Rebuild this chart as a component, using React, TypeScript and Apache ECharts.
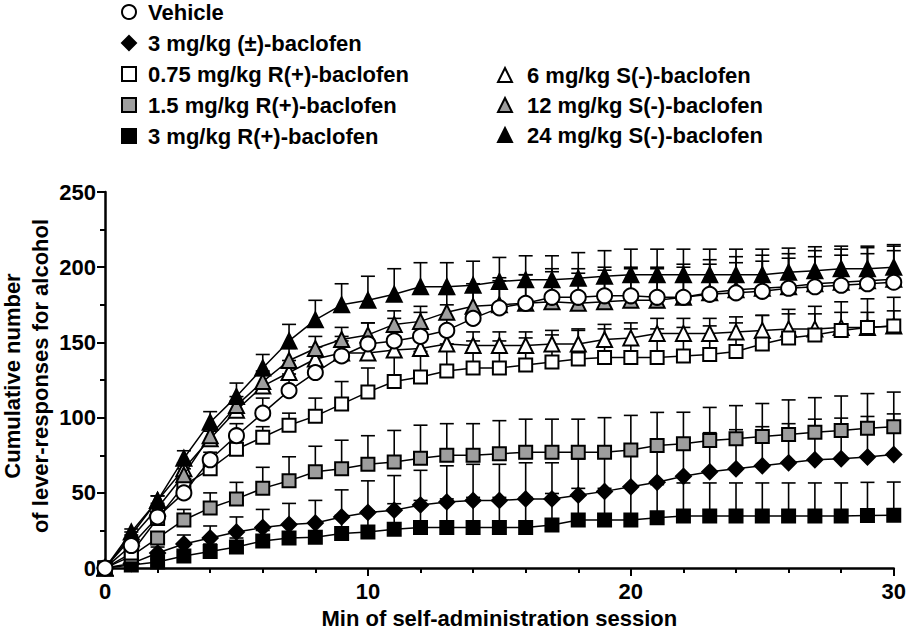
import React, { useEffect, useRef } from "react";
import * as echarts from "echarts";

const minutes = Array.from({ length: 31 }, (_, i) => i);

const seriesNames = [
  "Vehicle",
  "3 mg/kg (±)-baclofen",
  "0.75 mg/kg R(+)-baclofen",
  "1.5 mg/kg R(+)-baclofen",
  "3 mg/kg R(+)-baclofen",
  "6 mg/kg S(-)-baclofen",
  "12 mg/kg S(-)-baclofen",
  "24 mg/kg S(-)-baclofen",
];

const yTitleLines = ["Cumulative number", "of lever-responses for alcohol"];
const xTitle = "Min of self-administration session";

const vehicle = [0, 15, 34, 50, 72, 88, 103, 118, 130, 141, 149, 151, 154, 158, 166, 173, 176, 180, 180, 181, 181, 180, 180, 182, 183, 184, 186, 187, 188, 189, 190];
const vehicleErr = [0, 2, 3, 4, 5, 8, 10, 11, 12, 13, 14, 15, 16, 17, 18, 18, 19, 19, 19, 19, 19, 20, 20, 20, 20, 20, 20, 20, 20, 20, 21];

const racemic3 = [0, 3, 10, 16, 20, 24, 27, 29, 30, 34, 37, 38.5, 42, 44, 45, 45, 46, 46, 48.5, 51, 54, 57, 61, 64, 66, 68, 70, 72, 72.7, 73.8, 75.5];
const racemic3Err = [0, 2, 4, 6, 8, 10, 12, 14, 15, 18, 21, 23, 23, 24, 24, 24, 24, 24, 24, 24, 25, 25, 25, 26, 26, 26, 26, 27, 27, 27, 27];

const r075 = [0, 10, 33, 55, 66, 79, 87, 95, 101, 109, 117, 124, 127, 131, 133, 133, 135, 137, 139, 140, 140, 140, 141, 142, 144, 149, 153, 155, 158, 160, 161];
const r075Err = [0, 2, 3, 4, 5, 6, 7, 8, 12, 15, 16, 17, 17, 18, 18, 18, 18, 18, 19, 19, 19, 19, 19, 19, 19, 19, 19, 19, 19, 19, 19];

const r15 = [0, 8, 20, 32, 40, 46, 53, 58, 64, 66, 69, 70.5, 73, 75, 75, 76, 77, 77, 77, 77, 78.5, 81.5, 82.6, 84.8, 86, 87.4, 88.8, 90.3, 91.4, 93, 94];
const r15Err = [0, 2, 4, 7, 10, 11, 14, 16, 17, 19, 19, 21, 22, 21, 21, 22, 22, 22, 22, 23, 23, 22, 21, 22, 22, 22, 23, 23, 23, 23, 23];

const r3 = [0, 2, 4, 8, 11, 14, 18, 20, 20.5, 23, 24, 25.8, 27, 27, 27, 27, 27, 28.6, 32, 32, 32, 33.5, 34.6, 34.6, 34.6, 34.6, 34.6, 34.6, 34.6, 35, 35.2];
const r3Err = [0, 1, 2, 3, 5, 6, 7, 9, 10, 12, 14, 17, 18, 19, 20, 20, 20, 21, 21, 21, 22, 22, 22, 22, 22, 22, 22, 22, 22, 22, 22];

const s6 = [0, 22, 45, 66, 86, 105, 121, 130, 139, 143, 143, 145, 146, 149, 148, 148, 148, 149, 149, 152, 153, 156, 156, 156, 157, 158, 159, 159, 160, 160, 161];
const s6Err = [0, 2, 3, 4, 5, 6, 7, 8, 8, 8, 8, 9, 9, 9, 9, 9, 9, 9, 10, 10, 10, 10, 10, 10, 10, 10, 10, 10, 10, 10, 10];

const s12 = [0, 20, 40, 62, 88, 108, 124, 138, 146, 152, 155, 162, 164, 170, 174, 175, 176, 177, 176, 177, 178, 178, 180, 183, 185, 186, 187, 189, 190, 191, 192];
const s12Err = [0, 2, 3, 4, 5, 6, 7, 8, 8, 8, 8, 9, 10, 12, 15, 18, 19, 20, 20, 21, 21, 21, 22, 22, 22, 22, 22, 22, 22, 22, 22];

const s24 = [0, 24, 45, 73, 97, 114, 133, 151, 165, 175, 178, 182, 187, 187, 188, 190.5, 191.6, 191.6, 192.7, 194, 195, 195, 195, 195, 195, 195, 196.7, 197.6, 199, 199, 200];
const s24Err = [0, 2, 3, 5, 7, 9, 9, 11, 13, 14, 16, 17, 16, 16, 16, 16, 16, 16, 17, 17, 17, 17, 17, 17, 17, 17, 16, 16, 15, 15, 15];

const xTicks = [0, 10, 20, 30];
const yTicks = [0, 50, 100, 150, 200, 250];

const FONT = "'Liberation Sans', Arial, sans-serif";
const GRAY = "#9e9e9e";

type Group = { name: string; values: number[]; errs: number[]; symbol: string; size: number; fill: string; order: number };

const groups: Group[] = [
  { name: seriesNames[4], values: r3, errs: r3Err, symbol: "rect", size: 13, fill: "#000", order: 0 },
  { name: seriesNames[1], values: racemic3, errs: racemic3Err, symbol: "diamond", size: 15, fill: "#000", order: 1 },
  { name: seriesNames[3], values: r15, errs: r15Err, symbol: "rect", size: 13, fill: GRAY, order: 2 },
  { name: seriesNames[5], values: s6, errs: s6Err, symbol: "triangle", size: 15, fill: "#fff", order: 3 },
  { name: seriesNames[2], values: r075, errs: r075Err, symbol: "rect", size: 13, fill: "#fff", order: 4 },
  { name: seriesNames[6], values: s12, errs: s12Err, symbol: "triangle", size: 15, fill: GRAY, order: 5 },
  { name: seriesNames[7], values: s24, errs: s24Err, symbol: "triangle", size: 15, fill: "#000", order: 6 },
  { name: seriesNames[0], values: vehicle, errs: vehicleErr, symbol: "circle", size: 15, fill: "#fff", order: 7 },
];

function legendItem(name: string) {
  const g = groups.find((x) => x.name === name)!;
  return {
    name,
    icon: g.symbol,
    itemStyle: { color: g.fill, borderColor: "#000", borderWidth: 2 },
  };
}

export default function App() {
  const ref = useRef<HTMLDivElement>(null);
  useEffect(() => {
    if (!ref.current) return;
    const chart = echarts.init(ref.current, undefined, { renderer: "svg" });

    const series: any[] = [];
    groups.forEach((g) => {
      series.push({
        name: "err-" + g.name,
        type: "custom",
        z: 1,
        silent: true,
        data: minutes.map((t, i) => [t, g.values[i], g.errs[i]]),
        renderItem: (params: any, api: any) => {
          const x = api.value(0);
          const y = api.value(1);
          const e = api.value(2);
          if (!e) return null;
          const p0 = api.coord([x, y]);
          const p1 = api.coord([x, y + e]);
          const hw = 7;
          return {
            type: "group",
            children: [
              { type: "line", shape: { x1: p0[0], y1: p0[1], x2: p1[0], y2: p1[1] }, style: { stroke: "#000", lineWidth: 1.6 } },
              { type: "line", shape: { x1: p1[0] - hw, y1: p1[1], x2: p1[0] + hw, y2: p1[1] }, style: { stroke: "#000", lineWidth: 1.6 } },
            ],
          };
        },
      });
    });
    groups.forEach((g) => {
      series.push({
        name: g.name,
        type: "line",
        z: 2 + g.order,
        clip: false,
        data: minutes.map((t, i) => [t, g.values[i]]),
        symbol: g.symbol,
        symbolSize: g.size,
        showSymbol: true,
        lineStyle: { color: "#000", width: 1.5 },
        itemStyle: { color: g.fill, borderColor: "#000", borderWidth: 2 },
        emphasis: { disabled: true },
      });
    });

    const legendText = { fontSize: 22, fontWeight: "bold", color: "#000", fontFamily: FONT, lineHeight: 22, padding: [0, 0, 0, 7] };
    const titleFont = "bold 22px " + FONT;

    chart.setOption({
      animation: false,
      backgroundColor: "#fff",
      legend: [
        {
          orient: "vertical",
          left: 121,
          top: 1,
          padding: 0,
          itemWidth: 14,
          itemHeight: 14,
          itemGap: 9,
          selectedMode: false,
          textStyle: legendText,
          data: [seriesNames[0], seriesNames[1], seriesNames[2], seriesNames[3], seriesNames[4]].map(legendItem),
        },
        {
          orient: "vertical",
          left: 497,
          top: 64,
          padding: 0,
          itemWidth: 14,
          itemHeight: 14,
          itemGap: 8,
          selectedMode: false,
          textStyle: { ...legendText, padding: [0, 0, 0, 10] },
          data: [seriesNames[5], seriesNames[6], seriesNames[7]].map(legendItem),
        },
      ],
      graphic: [
        {
          type: "text",
          x: 12,
          y: 376,
          rotation: Math.PI / 2,
          style: { text: yTitleLines[0], font: titleFont, fill: "#000", align: "center", verticalAlign: "middle" },
        },
        {
          type: "text",
          x: 40,
          y: 376,
          rotation: Math.PI / 2,
          style: { text: yTitleLines[1], font: titleFont, fill: "#000", align: "center", verticalAlign: "middle" },
        },
      ],
      grid: { left: 105, right: 14, top: 192, bottom: 62, containLabel: false },
      xAxis: {
        type: "value",
        min: 0,
        max: 30,
        interval: 10,
        name: xTitle,
        nameLocation: "middle",
        nameGap: 38,
        nameTextStyle: { fontSize: 22, fontWeight: "bold", color: "#000", fontFamily: FONT },
        axisLine: { show: true, onZero: false, lineStyle: { color: "#000", width: 2.5 } },
        axisTick: { show: true, length: 8, lineStyle: { color: "#000", width: 2 } },
        minorTick: { show: true, splitNumber: 5, length: 5, lineStyle: { color: "#000", width: 2 } },
        splitLine: { show: false },
        axisLabel: {
          margin: 12,
          fontSize: 22,
          fontWeight: "bold",
          color: "#000",
          fontFamily: FONT,
          formatter: (v: number) => (xTicks.includes(v) ? String(v) : ""),
        },
      },
      yAxis: {
        type: "value",
        min: 0,
        max: 250,
        interval: 50,
        axisLine: { show: true, onZero: false, lineStyle: { color: "#000", width: 2.5 } },
        axisTick: { show: true, length: 8, lineStyle: { color: "#000", width: 2 } },
        minorTick: { show: true, splitNumber: 2, length: 5, lineStyle: { color: "#000", width: 2 } },
        splitLine: { show: false },
        axisLabel: {
          margin: 9,
          fontSize: 22,
          fontWeight: "bold",
          color: "#000",
          fontFamily: FONT,
          formatter: (v: number) => (yTicks.includes(v) ? String(v) : ""),
        },
      },
      series,
    });
    return () => chart.dispose();
  }, []);
  return <div ref={ref} style={{ position: "absolute", left: 0, top: 0, width: 909, height: 634 }} />;
}
